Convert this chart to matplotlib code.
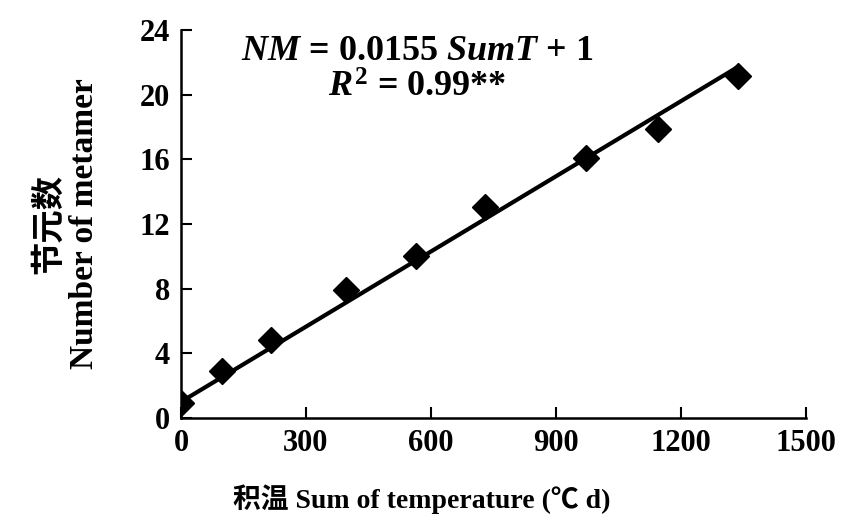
import matplotlib.pyplot as plt
import numpy as np

plt.rcParams['font.family'] = ['Liberation Serif', 'Noto Sans CJK SC']
plt.rcParams['font.weight'] = 'bold'
plt.rcParams['mathtext.fontset'] = 'custom'
plt.rcParams['mathtext.it'] = 'Liberation Serif:italic:bold'
plt.rcParams['mathtext.rm'] = 'Liberation Serif:bold'
plt.rcParams['mathtext.bf'] = 'Liberation Serif:bold'

# data
sum_t = [0, 98, 217, 396, 565, 730, 973, 1145, 1336]
metamer = [0.95, 2.9, 4.8, 7.9, 10.0, 13.05, 16.1, 17.9, 21.15]
slope, intercept = 0.0155, 1
x_ticks = [0, 300, 600, 900, 1200, 1500]
y_ticks = [0, 4, 8, 12, 16, 20, 24]

fig = plt.figure(figsize=(8.48, 5.25), dpi=100)
ax = fig.add_axes([0.2134, 0.2038, 0.737, 0.739])

xf = np.array([0, max(sum_t)])
ax.plot(xf, slope * xf + intercept, color='black', lw=3, zorder=2)
ax.plot(sum_t, metamer, 'D', color='black', ms=13, zorder=3)

ax.set_xlim(0, 1500)
ax.set_ylim(0, 24)
ax.set_xticks(x_ticks)
ax.set_yticks(y_ticks)
ax.spines['top'].set_visible(False)
ax.spines['right'].set_visible(False)
for s in ['left', 'bottom']:
    ax.spines[s].set_linewidth(1.8)
ax.tick_params(direction='in', length=8, width=1.5, labelsize=22, pad=8)

ax.set_xlabel('积温 Sum of temperature (℃ d)', fontsize=20, fontweight='bold')
ax.xaxis.set_label_coords(0.385, -0.17)
ax.set_ylabel('节元数\nNumber of metamer', fontsize=24, fontweight='bold',
              linespacing=1.15)
ax.yaxis.set_label_coords(-0.13, 0.5)

ax.text(0.378, 0.945, r'$NM$ = 0.0155 $SumT$ + 1', transform=ax.transAxes,
        ha='center', va='center', fontsize=26)
ax.text(0.378, 0.85, r'$R^2$ = 0.99**', transform=ax.transAxes,
        ha='center', va='center', fontsize=26)

fig.savefig('out.png', dpi=100)
